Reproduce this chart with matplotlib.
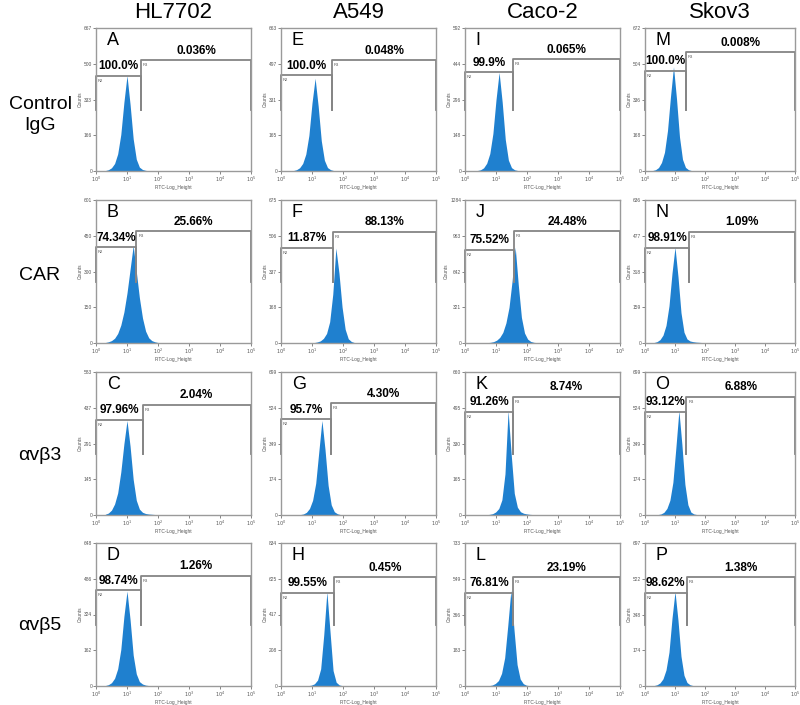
import matplotlib.pyplot as plt
import numpy as np

plt.rcParams['font.family'] = ['Liberation Sans', 'DejaVu Sans']

cell_lines = ["HL7702", "A549", "Caco-2", "Skov3"]
antibodies = ["Control\nIgG", "CAR", "αvβ3", "αvβ5"]
letters = [["A", "E", "I", "M"],
           ["B", "F", "J", "N"],
           ["C", "G", "K", "O"],
           ["D", "H", "L", "P"]]

# percent of cells in R2 (negative) and R3 (positive) gates
r2_pct = [["100.0%", "100.0%", "99.9%", "100.0%"],
          ["74.34%", "11.87%", "75.52%", "98.91%"],
          ["97.96%", "95.7%", "91.26%", "93.12%"],
          ["98.74%", "99.55%", "76.81%", "98.62%"]]
r3_pct = [["0.036%", "0.048%", "0.065%", "0.008%"],
          ["25.66%", "88.13%", "24.48%", "1.09%"],
          ["2.04%", "4.30%", "8.74%", "6.88%"],
          ["1.26%", "0.45%", "23.19%", "1.38%"]]

# top of the Counts axis
y_max = [[667, 663, 592, 672],
         [601, 675, 1284, 636],
         [583, 699, 660, 699],
         [648, 834, 733, 697]]

# gate border between R2 and R3 (log10 of FITC)
gate_log = [[1.45, 1.65, 1.55, 1.35],
            [1.30, 1.68, 1.58, 1.47],
            [1.50, 1.60, 1.55, 1.38],
            [1.45, 1.70, 1.55, 1.39]]

# histograms: first bin (log10 FITC), then counts every 0.1 decade
hist_start = [[0.30, 0.40, 0.40, 0.25],
              [0.30, 1.07, 0.72, 0.30],
              [0.30, 0.62, 0.69, 0.43],
              [0.30, 0.88, 0.78, 0.30]]
hist_counts = [
    [[2, 6, 15, 35, 80, 170, 320, 445, 310, 150, 55, 18, 7, 3, 1, 0],
     [2, 6, 15, 35, 78, 165, 315, 430, 300, 140, 50, 16, 6, 2, 1, 0],
     [2, 5, 13, 32, 72, 155, 295, 408, 285, 130, 45, 14, 5, 2, 1, 0],
     [2, 6, 16, 40, 88, 190, 350, 490, 340, 160, 55, 17, 6, 2, 1, 0]],
    [[2, 5, 10, 20, 40, 75, 130, 210, 310, 410, 300, 190, 105, 50, 22, 10, 5, 2, 1, 0],
     [2, 5, 10, 22, 45, 100, 230, 448, 330, 170, 65, 20, 7, 2, 1, 0],
     [3, 6, 12, 25, 50, 95, 180, 320, 560, 860, 520, 230, 90, 35, 14, 6, 3, 1, 0],
     [2, 6, 15, 35, 78, 165, 310, 426, 295, 135, 48, 18, 9, 6, 4, 3, 2, 1, 0]],
    [[3, 8, 20, 45, 90, 175, 290, 385, 280, 145, 60, 24, 11, 6, 4, 3, 2, 1, 0],
     [2, 5, 13, 32, 72, 155, 310, 462, 320, 145, 50, 16, 6, 2, 1, 0],
     [1, 3, 6, 14, 30, 70, 190, 482, 280, 100, 36, 15, 8, 5, 3, 2, 1, 0],
     [2, 5, 13, 32, 72, 160, 330, 510, 345, 150, 50, 14, 5, 2, 1, 0]],
    [[2, 6, 15, 35, 78, 165, 315, 430, 300, 140, 55, 20, 9, 4, 2, 1, 0],
     [2, 5, 13, 35, 100, 300, 550, 320, 90, 22, 6, 2, 0],
     [2, 5, 13, 28, 65, 145, 310, 490, 290, 110, 36, 12, 4, 2, 1, 0],
     [2, 6, 15, 35, 78, 165, 330, 460, 320, 145, 52, 17, 6, 2, 1, 0]],
]

# gate bar heights (fraction of axis height)
r2_height = [[0.665, 0.67, 0.69, 0.70],
             [0.67, 0.665, 0.65, 0.665],
             [0.665, 0.67, 0.72, 0.72],
             [0.67, 0.65, 0.65, 0.65]]
r3_height = [[0.775, 0.775, 0.78, 0.83],
             [0.78, 0.776, 0.78, 0.776],
             [0.77, 0.78, 0.825, 0.825],
             [0.77, 0.76, 0.76, 0.76]]

W, H = 800, 705
col_left = [96, 281, 465, 645]
col_width = [155, 155, 155, 150]
row_top = [28, 200, 372, 543]
ax_h = 143
blue = '#1f80cf'
grey = '#858585'

fig = plt.figure(figsize=(8, 7.05), dpi=100)

for r in range(4):
    for c in range(4):
        ax = fig.add_axes([col_left[c] / W, 1 - (row_top[r] + ax_h) / H,
                           col_width[c] / W, ax_h / H])
        counts = np.array(hist_counts[r][c])
        logx = hist_start[r][c] + 0.1 * np.arange(len(counts))
        ax.fill_between(10 ** logx, counts, color=blue, lw=0)
        ax.set_xscale('log')
        ax.set_xlim(1, 1e5)
        ax.set_ylim(0, y_max[r][c])

        yt = [int(y_max[r][c] * k / 4) for k in range(5)]
        ax.set_yticks(yt)
        ax.set_yticklabels([str(v) for v in yt])
        ax.set_xticks([10 ** k for k in range(6)])
        ax.set_xticklabels(['$10^%d$' % k for k in range(6)])
        ax.minorticks_off()
        ax.tick_params(labelsize=3.5, length=2, width=0.5, pad=0.8, colors='#555555')
        for s in ax.spines.values():
            s.set_color('#9a9a9a')
            s.set_linewidth(1.0)
        ax.set_xlabel('FITC-Log_Height', fontsize=3.5, labelpad=0.3, color='#555555')
        ax.set_ylabel('Counts', fontsize=3.5, labelpad=1, color='#555555')

        # gates
        tr = ax.get_xaxis_transform()
        t = 10 ** gate_log[r][c]
        h2, h3 = r2_height[r][c], r3_height[r][c]
        low = 0.43
        ax.plot([1, 1, t, t], [low, h2, h2, low], color=grey, lw=1.3, transform=tr, clip_on=False)
        ax.plot([t, t, 1e5, 1e5], [low, h3, h3, low], color=grey, lw=1.3, transform=tr, clip_on=False)
        ax.text(1.15, h2 - 0.02, 'R2', fontsize=3, va='top', ha='left', transform=tr, color='#555555')
        ax.text(t * 1.15, h3 - 0.02, 'R3', fontsize=3, va='top', ha='left', transform=tr, color='#555555')
        ax.text(10 ** (gate_log[r][c] / 2), h2 + 0.025, r2_pct[r][c], fontsize=8.5,
                fontweight='bold', ha='center', va='bottom', transform=tr)
        ax.text(10 ** ((gate_log[r][c] + 5) / 2), h3 + 0.025, r3_pct[r][c], fontsize=8.5,
                fontweight='bold', ha='center', va='bottom', transform=tr)
        ax.text(0.07, 0.97, letters[r][c], fontsize=13, ha='left', va='top', transform=ax.transAxes)

for c in range(4):
    fig.text((col_left[c] + col_width[c] / 2) / W, 1 - 13 / H, cell_lines[c], fontsize=16,
             ha='center', va='center')

label_y = [115, 275, 455, 625]
for r in range(4):
    fig.text(40 / W, 1 - label_y[r] / H, antibodies[r], fontsize=14, ha='center', va='center',
             linespacing=1.3)

fig.savefig('out.png', dpi=100)
